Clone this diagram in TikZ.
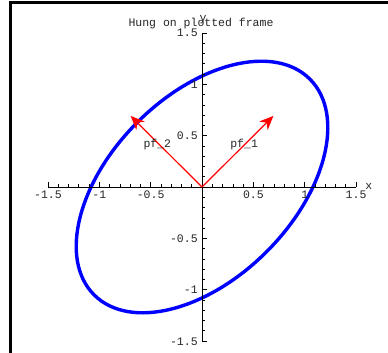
\documentclass[tikz,border=0pt]{standalone}
\usepackage{fontspec}
\setmonofont{Liberation Mono}
\usetikzlibrary{arrows.meta}
\tikzset{
  lbl/.style={font=\ttfamily\fontsize{11.5}{12}\selectfont, text=black!85, inner sep=0pt},
  axisline/.style={black, line width=0.8pt},
  tickmaj/.style={black, line width=0.8pt},
  tickmin/.style={black, line width=0.6pt},
  curve/.style={draw=blue, line width=3.4pt},
  vec/.style={draw=red, line width=1.2pt, -{Stealth[length=14pt, width=12pt, inset=4.5pt]}},
  framebar/.style={black, line width=2.6pt}
}
\begin{document}
\begin{tikzpicture}[x=1pt,y=-1pt]
\useasboundingbox (0,0) rectangle (388,353);
\clip (0,0) rectangle (388,353);
\fill[white] (0,0) rectangle (388,353);
% partial frame
\draw[framebar] (10.2,360) -- (10.2,2.5) -- (395,2.5);
% title
\node[lbl, anchor=base] (title) at (201,26.7) {Hung on plotted frame};
\begin{scope}[shift={(202,187)}, x=102.7pt, y=102.7pt]
  \coordinate (O) at (0,0);
  \coordinate (xl) at (-1.5,0);
  \coordinate (xr) at (1.5,0);
  \coordinate (yb) at (0,-1.5);
  \coordinate (yt) at (0,1.5);
  % ellipse
  \draw[curve, rotate=45] (0,0) ellipse (1.4856 and 0.8905);
  % axes
  \draw[axisline] (xl) -- (xr);
  \draw[axisline] (yb) -- (yt);
  \foreach \i in {-15,...,15}{
    \pgfmathtruncatemacro{\m}{mod(abs(\i),5)}
    \ifnum\m=0
      \draw[tickmaj] (\i/10,0) -- ++(0,0.045);
      \draw[tickmaj] (0,\i/10) -- ++(0.045,0);
    \else
      \draw[tickmin] (\i/10,0) -- ++(0,0.025);
      \draw[tickmin] (0,\i/10) -- ++(0.025,0);
    \fi
  }
  % x tick labels
  \foreach \v/\t/\n in {-1.5/-1.5/a,-1/-1/b,-0.5/-0.5/c,0.5/0.5/d,1/1/e,1.5/1.5/f}{
    \node[lbl, anchor=base] (xt\n) at (\v,-0.111) {\t};
  }
  % y tick labels
  \foreach \v/\t/\n in {-1.5/-1.5/a,-1/-1/b,-0.5/-0.5/c,0.5/0.5/d,1/1/e,1.5/1.5/f}{
    \node[lbl, anchor=base east] (yt\n) at (-0.04,\v-0.039) {\t};
  }
  \node[lbl, anchor=base west] (xlab) at (1.59,-0.025) {x};
  \node[lbl, anchor=base] (ylab) at (0.01,1.61) {y};
  % vectors
  \coordinate (P1) at (0.695,0.692);
  \coordinate (P2) at (-0.695,0.692);
  \draw[vec] (O) -- (P1);
  \draw[vec] (O) -- (P2);
  \node[lbl] (l1) at (0.41,0.415) {pf\_1};
  \node[lbl] (l2) at (-0.435,0.415) {pf\_2};
\end{scope}
\end{tikzpicture}
\end{document}
